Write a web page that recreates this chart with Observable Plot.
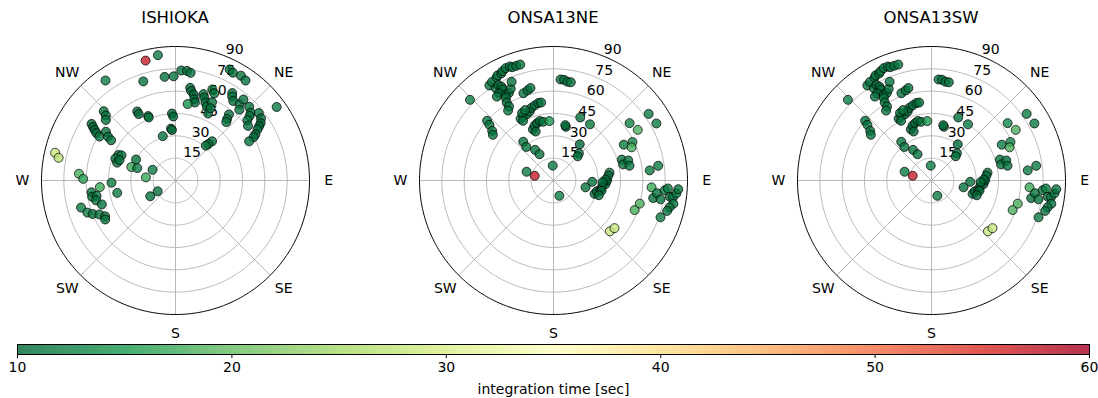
<!DOCTYPE html>
<html>
<head>
<meta charset="utf-8">
<script src="https://cdn.jsdelivr.net/npm/d3@7"></script>
<script src="https://cdn.jsdelivr.net/npm/@observablehq/plot@0.6"></script>
<style>
  html, body { margin: 0; padding: 0; background: #fff; }
  #wrap { position: relative; width: 1098px; height: 398px; overflow: hidden; font-family: "DejaVu Sans", sans-serif; }
  .panel { position: absolute; top: 0; }
  .cbar { position: absolute; left: 0; top: 340px; }
  .title { position: absolute; top: 8px; width: 300px; text-align: center; font-size: 16.5px; line-height: 20px; color: #000; }
</style>
</head>
<body>
<div id="wrap"></div>
<script>
// ---------- data ----------
const stations = ["ISHIOKA", "ONSA13NE", "ONSA13SW"];

// ISHIOKA: azimuth [deg], radial value, integration time [sec]
const ishiokaAz = [346,352,325,342,354,359,3,6,8,26,28,32,35,
  9,10,12,13,14,9,
  18,19,21,23,26,22,24,25,26,
  33,34,36,40,42,45,48,49,51,54,56,57,58,60,61,62,50,53,39,40,41,40,
  54,
  43,42,41,
  357,358,355,356,344,
  331,331,337,337,
  314,313,311,304,303,302,301,300,305,303,302,
  294,295,290,287,290,298,287,288,295,276,283,281,274,271,265,268,258,262,259,259,256,252,254,250,248,246,243,241,238,239];
const ishiokaZen = [83,85,82,70,70,70,74,74,73,83,82,83,82,
  63,61,59,56,54,52,
  61,59,56,54,50,66,64,58,54,
  70,68,66,67,64,70,68,66,72,71,69,67,65,62,60,56,63,61,57,54,52,71,
  84,
  36,33,31,
  45,43,35,34,31,
  53,51,47,46,
  67,64,62,68,66,64,62,59,57,54,51,
  42,40,43,41,40,30,31,27,17,20,83,80,65,62,51,43,40,57,57,54,55,52,66,63,60,56,53,54,20,14];
const ishiokaTime = [57,12,12,11,11,11,11,11,11,11,11,11,11,
  10,10,10,10,10,14,
  11,10,10,11,11,11,11,11,11,
  11,11,11,11,11,11,11,11,11,10,10,10,10,10,10,11,11,11,11,11,11,11,
  12,
  11,11,11,
  10,10,10,10,11,
  10,10,11,11,
  11,11,11,10,10,10,10,11,11,11,11,
  11,11,11,11,11,11,17,12,12,17,28,27,18,16,17,12,12,11,11,11,11,11,12,12,11,11,11,11,11,11];

// ONSA13NE / ONSA13SW (identical in the reference)
const onsaAz = [326,328,331,332,334,335,337,339,340,342,344,
  328,330,331,331,328,326,331,333,335,337,330,329,329,327,
  341,344,346,
  312,311,309,307,
  314,
  332,335,338,341,343,346,349,351,335,338,333,
  338,341,344,347,350,356,340,
  322,321,329,332,
  4,6,8,10,
  13,12,
  23,33,
  36,43,45,
  284,288,357,159,
  55,61,
  53,59,
  63,64,67,
  73,77,75,79,
  84,82,
  102,92,108,104,101,97,94,90,82,85,89,92,102,108,
  94,100,97,100,95,94,98,98,96,94,101,103,105,109,
  110,105,
  132,128];
const onsaZen = [77,78,79,80,80,81,82,82,81,81,81,
  73,74,72,70,69,68,66,66,68,72,64,61,58,56,
  62,63,64,
  60,57,53,51,
  78,
  47,48,48,49,51,52,53,53,50,51,45,
  37,39,40,41,40,40,35,
  33,29,24,20,
  68,68,67,67,
  37,38,
  46,45,
  30,25,23,
  13,19,10,11,
  78,79,
  64,66,
  53,59,57,
  48,48,52,52,
  65,71,
  22,26,29,30,32,33,35,36,38,37,35,33,33,32,
  66,68,70,73,75,77,79,81,83,84,82,80,79,76,
  58,60,
  51,52];
const onsaTime = [11,11,11,11,11,11,11,11,11,11,11,
  11,10,11,10,10,11,10,10,11,11,11,11,11,11,
  11,11,11,
  11,11,11,11,
  12,
  11,11,11,10,10,10,10,11,11,11,11,
  10,10,10,10,11,15,10,
  11,11,11,11,
  11,11,11,11,
  10,10,
  11,12,
  10,11,11,
  57,12,12,12,
  12,12,
  13,18,
  12,13,18,
  11,11,11,11,
  12,12,
  11,11,10,10,10,10,10,10,11,10,10,10,10,10,
  17,11,11,11,12,12,11,11,11,11,11,11,11,12,
  18,18,
  28,28];

// axes / labels
const ringValues = [15, 30, 45, 60, 75, 90];
const spokeAz = [0, 45, 90, 135, 180, 225, 270, 315];
const dirNames = ["NE", "E", "SE", "S", "SW", "W", "NW"];
const dirAz = [45, 90, 135, 180, 225, 270, 315];
const cbarTicks = [10, 20, 30, 40, 50, 60];
const cbarLabel = "integration time [sec]";
const timeDomain = [10, 60];

// ---------- style ----------
const colorStops = [10, 15, 20, 25, 30, 35, 40, 45, 50, 55, 60];
const colorRange = ["#006837","#1a9850","#66bd63","#a6d96a","#d9ef8b","#ffffbf","#fee08b","#fdae61","#f46d43","#d73027","#a50026"];
const colorOpt = {type: "linear", domain: colorStops, range: colorRange, interpolate: "rgb"};
const centersX = [175, 553, 931];
const font = "DejaVu Sans, sans-serif";
const fs = 14;

const lon = az => 180 - az;   // north up, clockwise
const rows = (az, zen, t) => az.map((a, i) => ({az: a, zen: zen[i], t: t[i]}));
const datasets = [
  rows(ishiokaAz, ishiokaZen, ishiokaTime),
  rows(onsaAz, onsaZen, onsaTime),
  rows(onsaAz, onsaZen, onsaTime)
];

function panel(data) {
  return Plot.plot({
    width: 340, height: 340,
    marginLeft: 36, marginRight: 36, marginTop: 46, marginBottom: 26,
    style: {background: "transparent", fontFamily: font, fontSize: fs + "px", color: "#000", overflow: "visible"},
    projection: {
      type: "azimuthal-equidistant",
      rotate: [0, -90],
      domain: d3.geoCircle().center([0, 90]).radius(90)(),
      inset: 0,
      clip: false
    },
    color: colorOpt,
    marks: [
      Plot.geo(ringValues.slice(0, -1), {geometry: v => d3.geoCircle().center([0, 90]).radius(v).precision(1)(), stroke: "#b0b0b0", strokeWidth: 0.9, fill: "none"}),
      Plot.link(spokeAz, {x1: a => lon(a), y1: 90, x2: a => lon(a), y2: 0, stroke: "#b0b0b0", strokeWidth: 0.9}),
      Plot.geo(ringValues.slice(-1), {geometry: v => d3.geoCircle().center([0, 90]).radius(v).precision(1)(), stroke: "#000", strokeWidth: 1, fill: "none"}),
      Plot.text(ringValues, {x: lon(22.5), y: v => 90 - v, text: v => String(v), dx: 8, dy: -7, fontSize: fs, fill: "#000"}),
      Plot.text(dirNames, {x: (d, i) => lon(dirAz[i]), y: -12.8, text: d => d, fontSize: fs, fill: "#000"}),
      Plot.dot(data, {x: d => lon(d.az), y: d => 90 - d.zen, r: 4.5, fill: d => d.t, fillOpacity: 0.8, stroke: "#000", strokeOpacity: 0.8, strokeWidth: 0.9})
    ]
  });
}

const wrap = document.getElementById("wrap");
stations.forEach((name, i) => {
  const svg = panel(datasets[i]);
  svg.classList.add("panel");
  svg.style.left = (centersX[i] - 170) + "px";
  svg.style.position = "absolute";
  svg.style.top = "0px";
  wrap.appendChild(svg);
  const t = document.createElement("div");
  t.className = "title";
  t.textContent = name;
  t.style.left = (centersX[i] - 150) + "px";
  wrap.appendChild(t);
});

const cbar = Plot.plot({
  width: 1098, height: 58,
  marginLeft: 17, marginRight: 9, marginTop: 4, marginBottom: 44,
  style: {background: "transparent", fontFamily: font, fontSize: fs + "px", color: "#000", overflow: "visible"},
  x: {domain: timeDomain, ticks: cbarTicks, tickSize: 4, tickPadding: 4, label: cbarLabel, labelAnchor: "center", labelArrow: "none", labelOffset: 39},
  y: {domain: [0, 1], axis: null},
  color: colorOpt,
  marks: [
    Plot.raster({fill: (x, y) => x, x1: timeDomain[0], x2: timeDomain[1], y1: 0, y2: 1, width: 1072, height: 1, fillOpacity: 0.8}),
    Plot.frame({stroke: "#000", strokeWidth: 1})
  ]
});
cbar.classList.add("cbar");
cbar.style.position = "absolute";
cbar.style.left = "0px";
cbar.style.top = "340px";
wrap.appendChild(cbar);
</script>
</body>
</html>
